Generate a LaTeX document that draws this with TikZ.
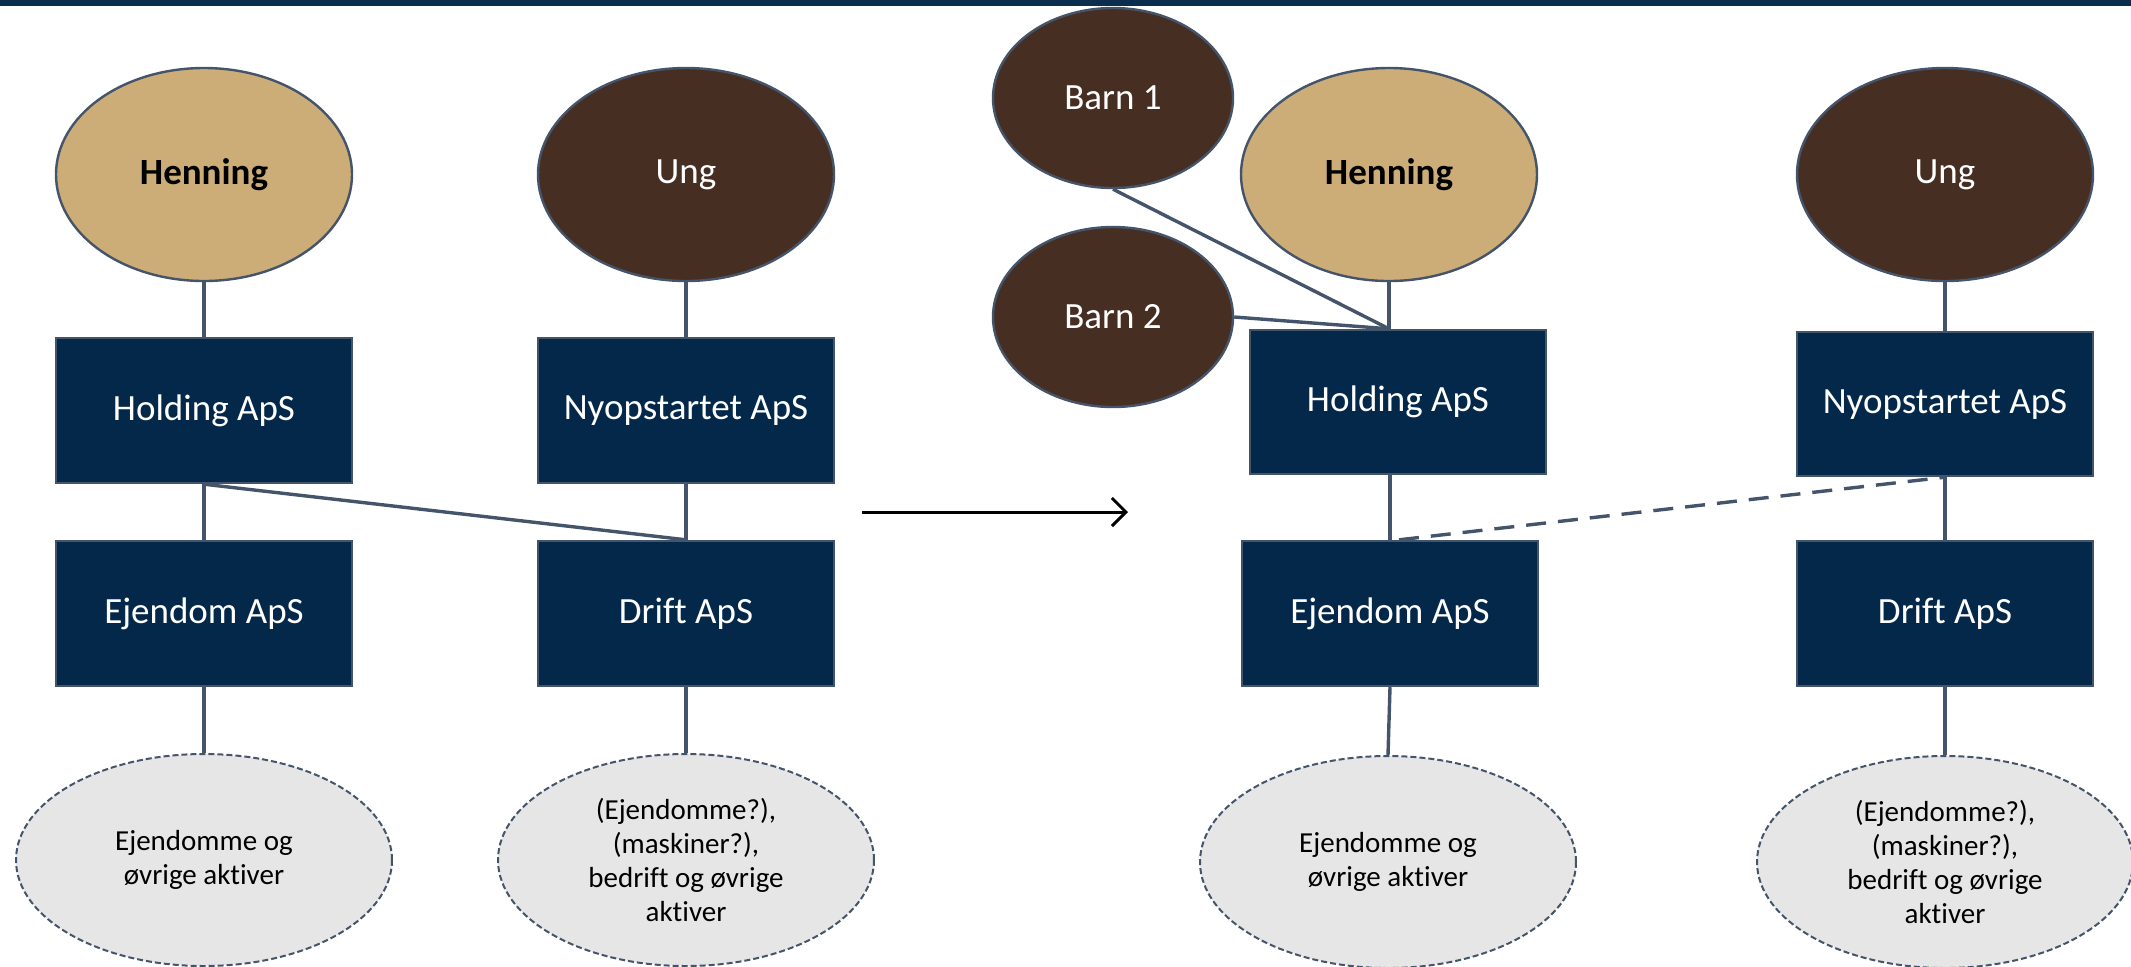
\documentclass[tikz,border=0pt]{standalone}
\usepackage{fontspec}
\setmainfont{Carlito}[Ligatures=NoCommon]
\usetikzlibrary{shapes.geometric,arrows.meta}
\definecolor{navy}{HTML}{03284A}
\definecolor{slate}{HTML}{44546A}
\definecolor{tanfill}{HTML}{CDAD77}
\definecolor{brownfill}{HTML}{472E23}
\definecolor{lgray}{HTML}{E7E6E6}
\definecolor{topbar}{HTML}{0C2E4E}
\begin{document}
\begin{tikzpicture}[x=0.5pt,y=-0.5pt,
  box/.style={draw=slate, line width=1.2pt, fill=navy, text=white,
    minimum width=148pt, minimum height=72.5pt, inner sep=0pt,
    font=\fontsize{18.5}{22}\selectfont},
  person/.style={ellipse, draw=slate, line width=1.2pt,
    minimum width=148pt, minimum height=106.5pt, inner sep=0pt,
    font=\fontsize{18.5}{22}\selectfont},
  child/.style={person, fill=brownfill, text=white,
    minimum width=120pt, minimum height=90pt},
  asset/.style={ellipse, draw=slate, line width=1pt, dash pattern=on 3pt off 1.5pt,
    fill=lgray, minimum width=188pt, minimum height=106pt, inner sep=0pt,
    align=center, font=\fontsize{14.5}{17}\selectfont},
  link/.style={draw=slate, line width=1.7pt},
  dlink/.style={link, dash pattern=on 10pt off 6pt},
  arr/.style={draw=black, line width=1.5pt, -{Straight Barb[length=7pt,width=14pt,line width=1.5pt]}}
]
\useasboundingbox (0,0) rectangle (2131,966);
\fill[topbar] (0,0) rectangle (2131,6);

% left structure
\node[person, fill=tanfill, font=\fontsize{18.5}{22}\selectfont\bfseries] (HenL) at (204,174.5) {Henning};
\node[person, fill=brownfill, text=white] (UngL) at (686,174.5) {Ung};
\node[box] (HoldL) at (204,410.5) {Holding ApS};
\node[box] (NyL) at (686,410.5) {Nyopstartet ApS};
\node[box] (EjL) at (204,613.5) {Ejendom ApS};
\node[box] (DrL) at (686,613.5) {Drift ApS};
\node[asset] (AsL) at (204,860) {Ejendomme og\\øvrige aktiver};
\node[asset] (AsL2) at (686,860) {(Ejendomme?),\\(maskiner?),\\bedrift og øvrige\\aktiver};

\draw[link] (HenL) -- (HoldL);
\draw[link] (UngL) -- (NyL);
\draw[link] (HoldL) -- (EjL);
\draw[link] (NyL) -- (DrL);
\draw[link] (HoldL.south) -- (DrL.north);
\draw[link] (EjL) -- (AsL);
\draw[link] (DrL) -- (AsL2);

% arrow
\coordinate (a1) at (862,512);
\coordinate (a2) at (1128,512);
\draw[arr] (a1) -- (a2);

% right structure
\node[child] (B1) at (1113,98) {Barn 1};
\node[child] (B2) at (1113,317) {Barn 2};
\node[person, fill=tanfill, font=\fontsize{18.5}{22}\selectfont\bfseries] (HenR) at (1389,174.5) {Henning};
\node[person, fill=brownfill, text=white] (UngR) at (1945,174.5) {Ung};
\node[box, minimum height=72pt] (HoldR) at (1398,402) {Holding ApS};
\node[box, minimum height=72pt] (NyR) at (1945,404) {Nyopstartet ApS};
\node[box] (EjR) at (1390,613.5) {Ejendom ApS};
\node[box] (DrR) at (1945,613.5) {Drift ApS};
\node[asset] (AsR) at (1388,862) {Ejendomme og\\øvrige aktiver};
\node[asset] (AsR2) at (1945,862) {(Ejendomme?),\\(maskiner?),\\bedrift og øvrige\\aktiver};

\coordinate (jR) at (HenR.south |- HoldR.north);
\draw[link] (HenR) -- (jR);
\draw[link] (B1.south) -- (jR);
\draw[link] (B2.east) -- (jR);
\draw[link] (HoldR.south -| EjR.north) -- (EjR.north);
\draw[dlink] ([xshift=4.5pt]EjR.north) -- (NyR.south);
\draw[link] (EjR.south) -- (AsR.north);
\draw[link] (UngR) -- (NyR);
\draw[link] (NyR) -- (DrR);
\draw[link] (DrR) -- (AsR2);
\end{tikzpicture}
\end{document}
